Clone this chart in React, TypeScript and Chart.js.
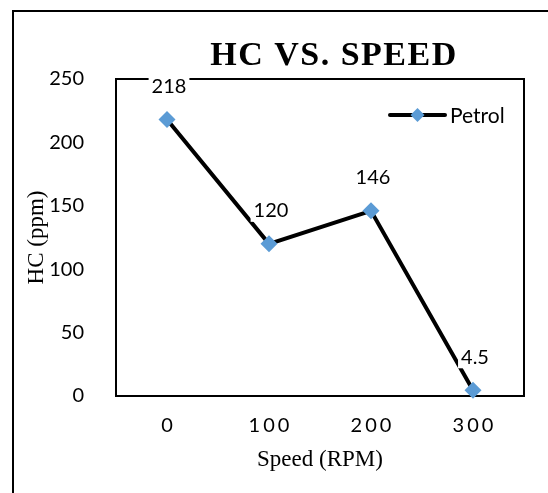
import React, { useEffect, useRef } from "react";
import { Chart, registerables } from "chart.js";

Chart.register(...registerables);

// ---- data ----
const categories: string[] = ["0", "100", "200", "300"];
const petrolValues: number[] = [218, 120, 146, 4.5];
const seriesName = "Petrol";
const chartTitle = "HC VS. SPEED";
const xAxisTitle = "Speed (RPM)";
const yAxisTitle = "HC (ppm)";
const yMin = 0;
const yMax = 250;
const yStep = 50;

const SANS = "Lato, 'Open Sans', sans-serif";
const SERIF = "'Liberation Serif', 'Times New Roman', serif";
const TEXT = "#000000";
const MARKER = "#5B9BD5";

const framePlugin = {
  id: "frame",
  beforeDraw(chart: any) {
    const xs = chart.scales.x;
    if (xs && !xs.__spaced) {
      xs.__spaced = true;
      const orig = xs.drawLabels.bind(xs);
      xs.drawLabels = (area: any) => {
        const ctx = chart.ctx;
        ctx.save();
        (ctx as any).letterSpacing = "3px";
        ctx.translate(1.5, 0);
        orig(area);
        ctx.restore();
      };
    }
    const ctx = chart.ctx;
    ctx.save();
    ctx.fillStyle = "#ffffff";
    ctx.fillRect(0, 0, chart.width, chart.height);
    ctx.strokeStyle = "#000000";
    ctx.lineWidth = 2;
    ctx.beginPath();
    ctx.moveTo(13, chart.height);
    ctx.lineTo(13, 11);
    ctx.lineTo(chart.width, 11);
    ctx.stroke();
    ctx.restore();
  },
  beforeDatasetsDraw(chart: any) {
    const { ctx, chartArea: a } = chart;
    ctx.save();
    ctx.strokeStyle = "#000000";
    ctx.lineWidth = 2;
    ctx.strokeRect(a.left, a.top, a.right - a.left, a.bottom - a.top);
    ctx.restore();
  },
};

const labelsPlugin = {
  id: "valueLabels",
  afterDatasetsDraw(chart: any) {
    const ctx = chart.ctx;
    const meta = chart.getDatasetMeta(0);
    const data = chart.data.datasets[0].data as number[];
    ctx.save();
    ctx.font = `20px ${SANS}`;
    ctx.textAlign = "center";
    ctx.textBaseline = "middle";
    meta.data.forEach((el: any, i: number) => {
      const txt = String(data[i]);
      const x = el.x + 2;
      const y = el.y - 33;
      const w = ctx.measureText(txt).width;
      ctx.fillStyle = "#ffffff";
      ctx.fillRect(x - w / 2 - 3, y - 11, w + 6, 22);
      ctx.fillStyle = TEXT;
      ctx.fillText(txt, x, y);
    });
    ctx.restore();
  },
};

const titleLegendPlugin = {
  id: "titleLegend",
  afterDraw(chart: any) {
    const { ctx, chartArea: a } = chart;
    ctx.save();
    // title
    ctx.font = `bold 34px ${SERIF}`;
    (ctx as any).letterSpacing = "1.5px";
    ctx.textAlign = "center";
    ctx.textBaseline = "middle";
    ctx.fillStyle = "#000000";
    ctx.fillText(chartTitle, (a.left + a.right) / 2 + 14, a.top - 23);
    (ctx as any).letterSpacing = "0px";
    // legend
    const ly = a.top + 36;
    const lx0 = a.right - 134;
    const lx1 = a.right - 79;
    ctx.strokeStyle = "#000000";
    ctx.lineWidth = 4;
    ctx.lineCap = "round";
    ctx.beginPath();
    ctx.moveTo(lx0, ly);
    ctx.lineTo(lx1, ly);
    ctx.stroke();
    const cx = (lx0 + lx1) / 2;
    const r = 7;
    ctx.fillStyle = MARKER;
    ctx.beginPath();
    ctx.moveTo(cx, ly - r);
    ctx.lineTo(cx + r, ly);
    ctx.lineTo(cx, ly + r);
    ctx.lineTo(cx - r, ly);
    ctx.closePath();
    ctx.fill();
    ctx.font = `21px ${SANS}`;
    ctx.textAlign = "left";
    ctx.fillStyle = TEXT;
    ctx.fillText(seriesName, lx1 + 5, ly + 1);
    ctx.restore();
  },
};

export default function App() {
  const ref = useRef<HTMLCanvasElement | null>(null);
  useEffect(() => {
    if (!ref.current) return;
    const chart = new Chart(ref.current, {
      type: "line",
      data: {
        labels: categories,
        datasets: [
          {
            label: seriesName,
            data: petrolValues,
            borderColor: "#000000",
            borderWidth: 4,
            backgroundColor: MARKER,
            pointStyle: "rectRot",
            pointRadius: 8.5,
            pointBackgroundColor: MARKER,
            pointBorderWidth: 0,
            pointBorderColor: MARKER,
            tension: 0,
            clip: false as any,
          },
        ],
      },
      options: {
        responsive: false,
        animation: false,
        layout: { padding: { left: 0, right: 24, top: 79, bottom: 0 } },
        plugins: {
          legend: { display: false },
          title: { display: false },
          tooltip: { enabled: false },
        },
        scales: {
          x: {
            type: "category",
            offset: true,
            grid: { display: false },
            border: { display: false },
            ticks: {
              color: TEXT,
              font: { family: SANS, size: 20 },
              padding: 10,
              maxRotation: 0,
            },
            title: {
              display: true,
              text: xAxisTitle,
              color: "#000000",
              font: { family: SERIF, size: 23 },
              padding: { top: 0, bottom: 19 },
            },
            afterFit: (s: any) => {
              s.height = 97;
            },
          },
          y: {
            min: yMin,
            max: yMax,
            grid: { display: false },
            border: { display: false },
            ticks: {
              stepSize: yStep,
              color: TEXT,
              font: { family: SANS, size: 20 },
              padding: 24,
            },
            title: {
              display: true,
              text: yAxisTitle,
              color: "#000000",
              font: { family: SERIF, size: 23 },
              padding: { top: 23, bottom: 0 },
            },
            afterFit: (s: any) => {
              s.width = 116;
            },
          },
        },
      },
      plugins: [framePlugin, labelsPlugin, titleLegendPlugin],
    });
    return () => chart.destroy();
  }, []);
  return (
    <div style={{ position: "fixed", left: 0, top: 0, width: 548, height: 493, background: "#fff" }}>
      <canvas ref={ref} width={548} height={493} style={{ display: "block" }} />
    </div>
  );
}
